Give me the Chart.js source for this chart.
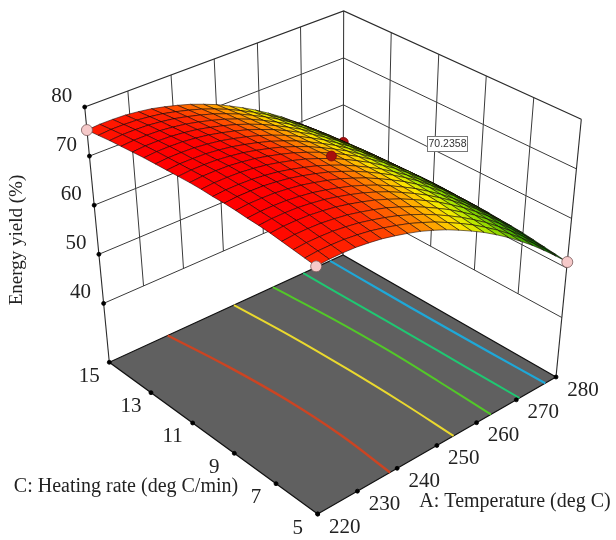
<!DOCTYPE html>
<html>
<head>
<meta charset="utf-8">
<title>Energy yield surface</title>
<script src="https://cdn.jsdelivr.net/npm/chart.js@4"></script>
<style>
  html, body { margin: 0; padding: 0; background: #fff; }
  canvas { display: block; }
</style>
</head>
<body>
<canvas id="surfaceChart" width="616" height="540"></canvas>
<script>
const temperatureTicks = [220, 230, 240, 250, 260, 270, 280];
const rateTicks = [5, 7, 9, 11, 13, 15];
const yieldTicks = [40, 50, 60, 70, 80];

const temperatureGrid = [220, 223, 226, 229, 232, 235, 238, 241, 244, 247, 250, 253, 256, 259, 262, 265, 268, 271, 274, 277, 280];
const rateGrid = [5, 5.5, 6, 6.5, 7, 7.5, 8, 8.5, 9, 9.5, 10, 10.5, 11, 11.5, 12, 12.5, 13, 13.5, 14, 14.5, 15];

// one row per temperature, one column per heating rate
const yieldRows = [
  [75, 75.3, 75.6, 75.9, 76.2, 76.4, 76.5, 76.7, 76.8, 76.8, 76.9, 76.9, 76.8, 76.7, 76.6, 76.5, 76.3, 76.1, 75.9, 75.6, 75.3],
  [75.2, 75.5, 75.8, 76.1, 76.4, 76.6, 76.7, 76.9, 77, 77, 77.1, 77.1, 77, 76.9, 76.8, 76.7, 76.5, 76.3, 76.1, 75.8, 75.5],
  [75.2, 75.5, 75.8, 76.1, 76.4, 76.6, 76.7, 76.9, 77, 77, 77.1, 77.1, 77, 76.9, 76.8, 76.7, 76.5, 76.3, 76.1, 75.8, 75.5],
  [75.1, 75.4, 75.7, 76, 76.3, 76.5, 76.6, 76.8, 76.9, 76.9, 77, 77, 76.9, 76.8, 76.7, 76.6, 76.4, 76.2, 76, 75.7, 75.4],
  [74.8, 75.1, 75.4, 75.7, 76, 76.2, 76.3, 76.5, 76.6, 76.6, 76.7, 76.7, 76.6, 76.5, 76.4, 76.3, 76.1, 75.9, 75.7, 75.4, 75.1],
  [74.4, 74.7, 75, 75.3, 75.6, 75.8, 75.9, 76.1, 76.2, 76.2, 76.3, 76.3, 76.2, 76.1, 76, 75.9, 75.7, 75.5, 75.3, 75, 74.7],
  [73.8, 74.1, 74.4, 74.7, 75, 75.2, 75.3, 75.5, 75.6, 75.6, 75.7, 75.7, 75.6, 75.5, 75.4, 75.3, 75.1, 74.9, 74.7, 74.4, 74.1],
  [73.1, 73.4, 73.7, 74, 74.3, 74.5, 74.6, 74.8, 74.9, 74.9, 75, 75, 74.9, 74.8, 74.7, 74.6, 74.4, 74.2, 74, 73.7, 73.4],
  [72.3, 72.6, 72.9, 73.2, 73.5, 73.7, 73.8, 74, 74.1, 74.1, 74.2, 74.2, 74.1, 74, 73.9, 73.8, 73.6, 73.4, 73.2, 72.9, 72.6],
  [71.3, 71.6, 71.9, 72.2, 72.5, 72.7, 72.8, 73, 73.1, 73.1, 73.2, 73.2, 73.1, 73, 72.9, 72.8, 72.6, 72.4, 72.2, 71.9, 71.6],
  [70.2, 70.5, 70.8, 71.1, 71.4, 71.6, 71.7, 71.9, 72, 72, 72.1, 72.1, 72, 71.9, 71.8, 71.7, 71.5, 71.3, 71.1, 70.8, 70.5],
  [68.9, 69.2, 69.5, 69.8, 70.1, 70.3, 70.4, 70.6, 70.7, 70.7, 70.8, 70.8, 70.7, 70.6, 70.5, 70.4, 70.2, 70, 69.8, 69.5, 69.2],
  [67.5, 67.8, 68.1, 68.4, 68.7, 68.9, 69, 69.2, 69.3, 69.3, 69.4, 69.4, 69.3, 69.2, 69.1, 69, 68.8, 68.6, 68.4, 68.1, 67.8],
  [66, 66.3, 66.6, 66.9, 67.2, 67.4, 67.5, 67.7, 67.8, 67.8, 67.9, 67.9, 67.8, 67.7, 67.6, 67.5, 67.3, 67.1, 66.9, 66.6, 66.3],
  [64.3, 64.6, 64.9, 65.2, 65.5, 65.7, 65.8, 66, 66.1, 66.1, 66.2, 66.2, 66.1, 66, 65.9, 65.8, 65.6, 65.4, 65.2, 64.9, 64.6],
  [62.5, 62.8, 63.1, 63.4, 63.7, 63.9, 64, 64.2, 64.3, 64.3, 64.4, 64.4, 64.3, 64.2, 64.1, 64, 63.8, 63.6, 63.4, 63.1, 62.8],
  [60.5, 60.8, 61.1, 61.4, 61.7, 61.9, 62, 62.2, 62.3, 62.3, 62.4, 62.4, 62.3, 62.2, 62.1, 62, 61.8, 61.6, 61.4, 61.1, 60.8],
  [58.4, 58.7, 59, 59.3, 59.6, 59.8, 59.9, 60.1, 60.2, 60.2, 60.3, 60.3, 60.2, 60.1, 60, 59.9, 59.7, 59.5, 59.3, 59, 58.7],
  [56.1, 56.4, 56.7, 57, 57.3, 57.5, 57.6, 57.8, 57.9, 57.9, 58, 58, 57.9, 57.8, 57.7, 57.6, 57.4, 57.2, 57, 56.7, 56.4],
  [53.7, 54, 54.3, 54.6, 54.9, 55.1, 55.2, 55.4, 55.5, 55.5, 55.6, 55.6, 55.5, 55.4, 55.3, 55.2, 55, 54.8, 54.6, 54.3, 54],
  [51.2, 51.5, 51.8, 52.1, 52.4, 52.6, 52.7, 52.9, 53, 53, 53.1, 53.1, 53, 52.9, 52.8, 52.7, 52.5, 52.3, 52.1, 51.8, 51.5]
];

// floor contours: temperature where each level crosses these heating rates
const contourRates = [5, 7.5, 10, 12.5, 15];
const contourRed = [238.2, 239, 238.7, 237.3, 235];
const contourYellow = [254.2, 254.3, 254, 253.3, 252];
const contourGreen = [263.6, 263.8, 263.8, 263.2, 262];
const contourTeal = [270.8, 270.6, 270.4, 270.1, 269.8];
const contourBlue = [277.3, 277, 276.8, 276.7, 276.7];

const cornerRuns = [[220, 15, 75.3], [220, 5, 75], [280, 5, 51.2]];
const hiddenRun = [280, 15, 52];
const centerRun = [250, 10, 72.6];

// box limits and where the box corners land on the page
const tempMin = 220, tempMax = 280, rateMin = 5, rateMax = 15, floorYield = 28, topYield = 80;
const floorCorners = { a0c0: [317.7, 514], a1c0: [556, 377], a0c1: [109.3, 362.3], a1c1: [343, 255] };
const topCorners = { a0c0: [316, 240], a1c0: [581.3, 119.3], a0c1: [84.7, 107], a1c1: [343.7, 11] };

const colorStops = [
  [50, [0, 80, 0]], [54, [0, 120, 0]], [59, [60, 170, 0]], [65, [170, 230, 0]],
  [68, [250, 235, 0]], [70, [255, 190, 0]], [73, [255, 110, 0]], [75, [255, 40, 0]], [76.5, [255, 0, 0]]
];

function project(temp, rate, value) {
  const u = (temp - tempMin) / (tempMax - tempMin);
  const v = (rate - rateMin) / (rateMax - rateMin);
  const f = (value - floorYield) / (topYield - floorYield);
  const blend = (c, k) => c.a0c0[k] * (1 - u) * (1 - v) + c.a1c0[k] * u * (1 - v) + c.a0c1[k] * (1 - u) * v + c.a1c1[k] * u * v;
  return {
    x: blend(floorCorners, 0) * (1 - f) + blend(topCorners, 0) * f,
    y: blend(floorCorners, 1) * (1 - f) + blend(topCorners, 1) * f
  };
}

function yieldColor(value) {
  if (value <= colorStops[0][0]) return `rgb(${colorStops[0][1].join(',')})`;
  for (let i = 1; i < colorStops.length; i++) {
    if (value <= colorStops[i][0]) {
      const t = (value - colorStops[i - 1][0]) / (colorStops[i][0] - colorStops[i - 1][0]);
      const c = colorStops[i][1].map((ch, k) => Math.round(colorStops[i - 1][1][k] + (ch - colorStops[i - 1][1][k]) * t));
      return `rgb(${c.join(',')})`;
    }
  }
  return 'rgb(255,0,0)';
}

// listed in paint order, reversed at the end because Chart.js paints the first dataset last
const layers = [];
const axisColor = '#2b2b2b';

function addLine(points, color, width, extra) {
  layers.push(Object.assign({
    data: points, showLine: true, pointRadius: 0, borderColor: color, borderWidth: width, fill: false
  }, extra || {}));
}
function addDots(points, fillColor, radius, edge) {
  layers.push({
    data: points, showLine: false, pointRadius: radius, pointHoverRadius: radius,
    pointBackgroundColor: fillColor, pointBorderColor: edge, pointBorderWidth: 0.8
  });
}

// walls
yieldTicks.slice(0, -1).forEach(z => {
  addLine([project(220, 15, z), project(280, 15, z), project(280, 5, z)], '#3a3a3a', 1);
});
temperatureTicks.slice(1, -1).forEach(t => {
  addLine([project(t, 15, 40), project(t, 15, 80)], '#3a3a3a', 1);
});
rateTicks.slice(1, -1).forEach(r => {
  addLine([project(280, r, 40), project(280, r, 80)], '#3a3a3a', 1);
});
addLine([project(220, 15, 80), project(280, 15, 80), project(280, 5, 80)], axisColor, 1.2);
addLine([project(220, 15, floorYield), project(220, 15, 80)], axisColor, 1.1);
addLine([project(280, 15, floorYield), project(280, 15, 80)], axisColor, 1);
addLine([project(280, 5, floorYield), project(280, 5, 80)], axisColor, 1.1);

// floor
const floorPath = [project(220, 5, floorYield), project(280, 5, floorYield), project(280, 15, floorYield), project(220, 15, floorYield), project(220, 5, floorYield)];
addLine(floorPath, '#111', 1.2, { fill: 'shape', backgroundColor: '#606060' });

[[contourRed, '#cc4422', 2.4], [contourYellow, '#ead92e', 2], [contourGreen, '#52c828', 2],
 [contourTeal, '#1fc872', 2], [contourBlue, '#1ea8d8', 2.2]].forEach(([temps, color, width]) => {
  addLine(temps.map((t, k) => project(t, contourRates[k], floorYield)), color, width, { tension: 0.4 });
});

const tickDots = [];
temperatureTicks.forEach(t => tickDots.push(project(t, 5, floorYield)));
rateTicks.forEach(r => tickDots.push(project(220, r, floorYield)));
yieldTicks.forEach(z => tickDots.push(project(220, 15, z)));
addDots(tickDots, '#000', 2, '#000');

addDots([project(...hiddenRun)], '#a80d0d', 5, '#7a0a0a');

// surface, far cells first
const cells = [];
for (let i = 0; i < temperatureGrid.length - 1; i++) {
  for (let j = 0; j < rateGrid.length - 1; j++) cells.push([i, j]);
}
cells.sort((a, b) => (b[0] + b[1]) - (a[0] + a[1]));
cells.forEach(([i, j]) => {
  const corners = [[i, j], [i + 1, j], [i + 1, j + 1], [i, j + 1], [i, j]];
  const mean = (yieldRows[i][j] + yieldRows[i + 1][j] + yieldRows[i + 1][j + 1] + yieldRows[i][j + 1]) / 4;
  addLine(corners.map(([a, b]) => project(temperatureGrid[a], rateGrid[b], yieldRows[a][b])),
    'rgba(15,0,0,0.8)', 0.7, { fill: 'shape', backgroundColor: yieldColor(mean) });
});

addDots(cornerRuns.map(p => project(...p)), '#f6c9c9', 5.5, '#7a5a5a');
addDots([project(...centerRun)], '#a80d0d', 5, '#7a0a0a');

const textPlugin = {
  id: 'boxText',
  afterDraw(chart) {
    const { ctx, scales } = chart;
    const at = p => [scales.x.getPixelForValue(p.x), scales.y.getPixelForValue(p.y)];
    ctx.save();
    ctx.fillStyle = '#222';
    ctx.textAlign = 'center';
    ctx.textBaseline = 'middle';
    ctx.font = '21px "Liberation Serif"';
    temperatureTicks.forEach(t => {
      const [x, y] = at(project(t, 5, floorYield));
      ctx.fillText(String(t), x + 27, y + 13);
    });
    rateTicks.forEach(r => {
      const [x, y] = at(project(220, r, floorYield));
      ctx.fillText(String(r), x - 20, y + 14);
    });
    yieldTicks.forEach(z => {
      const [x, y] = at(project(220, 15, z));
      ctx.fillText(String(z), x - 23, y - 11);
    });
    ctx.font = '20px "Liberation Serif"';
    ctx.fillText('C: Heating rate (deg C/min)', 126, 487);
    ctx.fillText('A: Temperature (deg C)', 515, 502);
    ctx.save();
    ctx.translate(17, 240);
    ctx.rotate(-Math.PI / 2);
    ctx.font = '19px "Liberation Serif"';
    ctx.fillText('Energy yield (%)', 0, 0);
    ctx.restore();

    // value flag
    ctx.fillStyle = '#fff';
    ctx.strokeStyle = '#777';
    ctx.lineWidth = 1;
    ctx.fillRect(427.5, 136.5, 40, 15);
    ctx.strokeRect(427.5, 136.5, 40, 15);
    ctx.fillStyle = '#333';
    ctx.font = '10.5px "Liberation Sans"';
    ctx.fillText('70.2358', 447.5, 144);
    ctx.restore();
  }
};

new Chart(document.getElementById('surfaceChart').getContext('2d'), {
  type: 'scatter',
  data: { datasets: layers.slice().reverse() },
  options: {
    responsive: false,
    animation: false,
    layout: { padding: 0, autoPadding: false },
    events: [],
    scales: {
      x: { type: 'linear', min: 0, max: 616, display: false },
      y: { type: 'linear', min: 0, max: 540, reverse: true, display: false }
    },
    plugins: { legend: { display: false }, tooltip: { enabled: false } }
  },
  plugins: [textPlugin]
});
</script>
</body>
</html>
